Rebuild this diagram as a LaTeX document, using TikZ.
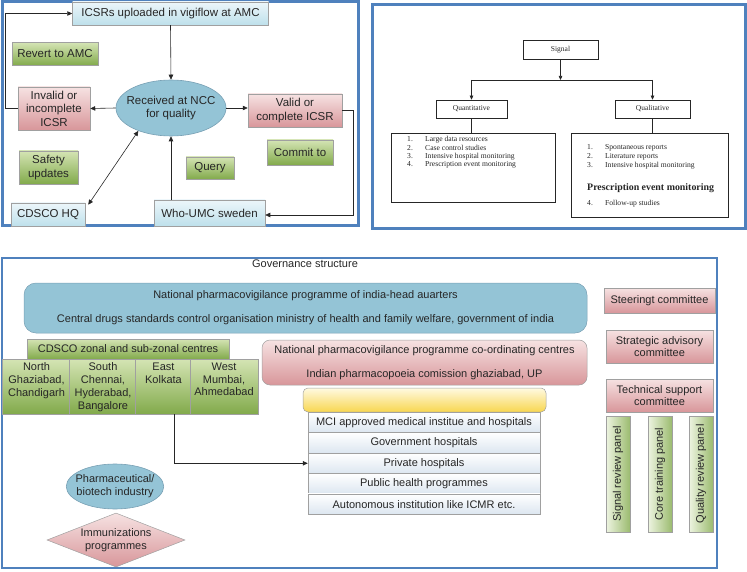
\documentclass[tikz,border=0pt]{standalone}
\usepackage{fontspec}
\setmainfont{Liberation Serif}
\setsansfont{Liberation Sans}
\usepackage{tikz}
\usetikzlibrary{arrows.meta,shapes.geometric}
\definecolor{PanelBlue}{RGB}{79,129,189}
\definecolor{InkGray}{RGB}{38,38,38}
\definecolor{EdgeGray}{RGB}{160,160,160}
\definecolor{BluTop}{RGB}{236,246,250}
\definecolor{BluBot}{RGB}{190,224,235}
\definecolor{GrnTop}{RGB}{212,228,180}
\definecolor{GrnBot}{RGB}{130,170,75}
\definecolor{PnkTop}{RGB}{246,226,226}
\definecolor{PnkBot}{RGB}{216,150,154}
\definecolor{NccFill}{RGB}{148,196,214}
\definecolor{NccEdge}{RGB}{120,160,180}
\definecolor{YlwTop}{RGB}{255,250,225}
\definecolor{YlwBot}{RGB}{248,214,80}
\definecolor{RowBot}{RGB}{220,230,240}

\begin{document}
\begin{tikzpicture}[x=1pt,y=-1pt,every node/.style={text=InkGray},
sf/.style={font=\fontsize{11}{12.7}\selectfont\sffamily},
sfl/.style={font=\fontsize{11.5}{13.5}\selectfont\sffamily},
bx/.style 2 args={minimum width=#1pt,minimum height=#2pt,inner sep=1pt,align=center},
blu/.style={draw=EdgeGray,line width=0.5pt,top color=BluTop,bottom color=BluBot},
grn/.style={draw=EdgeGray,line width=0.5pt,top color=GrnTop,bottom color=GrnBot},
pnk/.style={draw=EdgeGray,line width=0.5pt,top color=PnkTop,bottom color=PnkBot},
ncc/.style={ellipse,draw=NccEdge,line width=0.6pt,fill=NccFill,align=center,inner ysep=0pt},
sig/.style={draw=black!85,line width=0.6pt,fill=white,font=\fontsize{7.5}{9}\selectfont\rmfamily},
lst/.style={font=\fontsize{7.6}{9}\selectfont\rmfamily,inner sep=0pt,anchor=west,text=black!85},
arr/.style={-{Triangle[length=5pt,width=4.5pt]},line width=0.6pt,draw=black!85},
arrs/.style={-{Triangle[length=4pt,width=3.5pt]},line width=0.6pt,draw=black!85},
panel/.style={draw=PanelBlue,line width=#1}]
\useasboundingbox (0,0) rectangle (747,572);
% intake flow
\draw[panel=3pt] (2,2) rectangle (358,226);
\begin{scope}[sfl]
\node[blu,bx={196}{23}] (upl) at (170.5,13.5) {ICSRs uploaded in vigiflow at AMC};
\node[grn,bx={86}{23}] (rev) at (55,54) {Revert to AMC};
\node[ncc,inner xsep=-5.5pt,minimum height=56pt] (ncc) at (171,108) {Received at NCC\\for quality};
\node[pnk,bx={72}{43}] (inv) at (54,108.5) {Invalid or\\incomplete\\ICSR};
\node[pnk,bx={94}{33}] (val) at (295,110.5) {Valid or\\complete ICSR};
\node[grn,bx={66}{25}] (com) at (300,152.5) {Commit to};
\node[grn,bx={59}{33}] (saf) at (48.5,167.5) {Safety\\updates};
\node[grn,bx={48}{22}] (qry) at (210,168) {Query};
\node[blu,bx={74}{23}] (cdh) at (48,214.5) {CDSCO HQ};
\node[blu,bx={111}{26}] (umc) at (209.5,213) {Who-UMC sweden};
\end{scope}
\coordinate (lft) at (5,0);
\coordinate (rgt) at (353,0);
\draw[arr] (upl.south) -- (ncc.north);
\draw[arr] (ncc.west) -- (inv.east);
\draw[arr] (ncc.east) -- (ncc.east -| val.west);
\draw[arr,{Triangle[length=5pt,width=4.5pt]}-{Triangle[length=5pt,width=4.5pt]}] ([xshift=3pt,yshift=-2pt]cdh.north east) -- (ncc.215);
\draw[arr] (umc.north -| ncc.south) -- (ncc.south);
\draw[arr] (inv.west) -- (inv.west -| lft) |- (upl.west);
\draw[arr] (val.east) -- (val.east -| rgt) |- ([yshift=-2pt]umc.east);
% signal tree
\draw[panel=3pt] (372,5) rectangle (745,229);
\node[sig,bx={75}{19}] (sig) at (560.5,49.5) {Signal};
\node[sig,bx={71}{18}] (qnt) at (471.5,109) {Quantitative};
\node[sig,bx={75}{18}] (qlt) at (652.5,109) {Qualitative};
\node[sig,bx={164}{69}] (qntl) at (473,167.5) {};
\node[sig,bx={157}{84}] (qltl) at (649.5,175) {};
\coordinate (bry) at (0,80);
\draw[arrs] (sig.south) -- (sig.south |- bry);
\draw[line width=0.6pt,black!85] (qnt.north |- bry) -- (qlt.north |- bry);
\draw[arrs] (qnt.north |- bry) -- (qnt.north);
\draw[arrs] (qlt.north |- bry) -- (qlt.north);
\draw[line width=0.6pt,black!85] (qnt.south) -- (qnt.south |- qntl.north);
\draw[line width=0.6pt,black!85] (qlt.south) -- (qlt.south |- qltl.north);
\foreach \t [count=\k] in {Large data resources,Case control studies,Intensive hospital monitoring,Prescription event monitoring}
   \node[lst] (qn\k) at (407,140+8.3*\k-8.3) {\makebox[18pt][l]{\k.}\t};
\foreach \t [count=\k] in {Spontaneous reports,Literature reports,Intensive hospital monitoring}
   \node[lst] (ql\k) at (587,148+9*\k-9) {\makebox[18pt][l]{\k.}\t};
\node[lst,font=\fontsize{9.9}{11}\selectfont\rmfamily\bfseries] (pem) at (587,188) {Prescription event monitoring};
\node[lst] (ql4) at (587,204) {\makebox[18pt][l]{4.}Follow-up studies};
% governance
\draw[panel=1.5pt] (2,258) rectangle (717,568);
\begin{scope}[sf]
\node (gov) at (305,264) {Governance structure};
\node[draw=NccEdge,line width=0.5pt,fill=NccFill,rounded corners=12pt,bx={563}{50}] (nhq) at (305.5,308)
   {National pharmacovigilance programme of india-head auarters\\[11pt]Central drugs standards control organisation ministry of health and family welfare, government of india};
\node[grn,bx={202}{20}] (zon) at (128,349) {CDSCO zonal and sub-zonal centres};
\foreach \x/\w/\nm/\t in {36.5/67/nz/{North\\Ghaziabad,\\Chandigarh},103/66/sz/{South\\Chennai,\\Hyderabad,\\Bangalore},163.5/55/ez/{East\\Kolkata},224/66/wz/{West\\Mumbai,\\Ahmedabad}}
   \node[grn,bx={\w}{55}] (\nm) at (\x,386.5) {\parbox[t][47pt][t]{\w pt}{\centering\t}};
\node[pnk,rounded corners=8pt,bx={325}{45}] (pvc) at (424.5,362.5)
   {National pharmacovigilance programme co-ordinating centres\\[11pt]Indian pharmacopoeia comission ghaziabad, UP};
\node[draw=EdgeGray,line width=0.5pt,top color=YlwTop,bottom color=YlwBot,rounded corners=5pt,bx={243}{24}] (ylw) at (424.5,400) {};
\foreach \t [count=\k] in {MCI approved medical institue and hospitals,Government hospitals,Private hospitals,Public health programmes,Autonomous institution like ICMR etc.}
   \node[draw=EdgeGray,line width=0.5pt,top color=white,bottom color=RowBot,bx={232}{20.4}] (row\k) at (424,422.5+20.4*\k-20.4) {\t};
\node[ncc,inner xsep=-5pt,minimum height=45pt] (pha) at (115,486.5) {Pharmaceutical/\\biotech industry};
\node[diamond,draw=EdgeGray,line width=0.5pt,top color=PnkTop,bottom color=PnkBot,aspect=2.55,inner sep=0pt,minimum width=138pt,minimum height=54pt,align=center] (imm) at (116,540) {Immunizations\\programmes};
\node[pnk,bx={111}{25}] (stc) at (659.5,300.5) {Steeringt committee};
\node[pnk,bx={107}{33}] (sac) at (659.5,346.5) {Strategic advisory\\committee};
\node[pnk,bx={107}{33}] (tsc) at (659.5,395.5) {Technical support\\committee};
\foreach \x/\nm/\t in {618/srp/Signal review panel,660/ctp/Core training panel,701/qrp/Quality review panel}
   \node[draw=EdgeGray,line width=0.5pt,left color=GrnTop!40,right color=GrnBot!80,bx={116}{24},rotate=90] (\nm) at (\x,474) {\t};
\end{scope}
\draw[arr] ([xshift=10.5pt]ez.south) |- (row3.west);
\end{tikzpicture}
\end{document}
